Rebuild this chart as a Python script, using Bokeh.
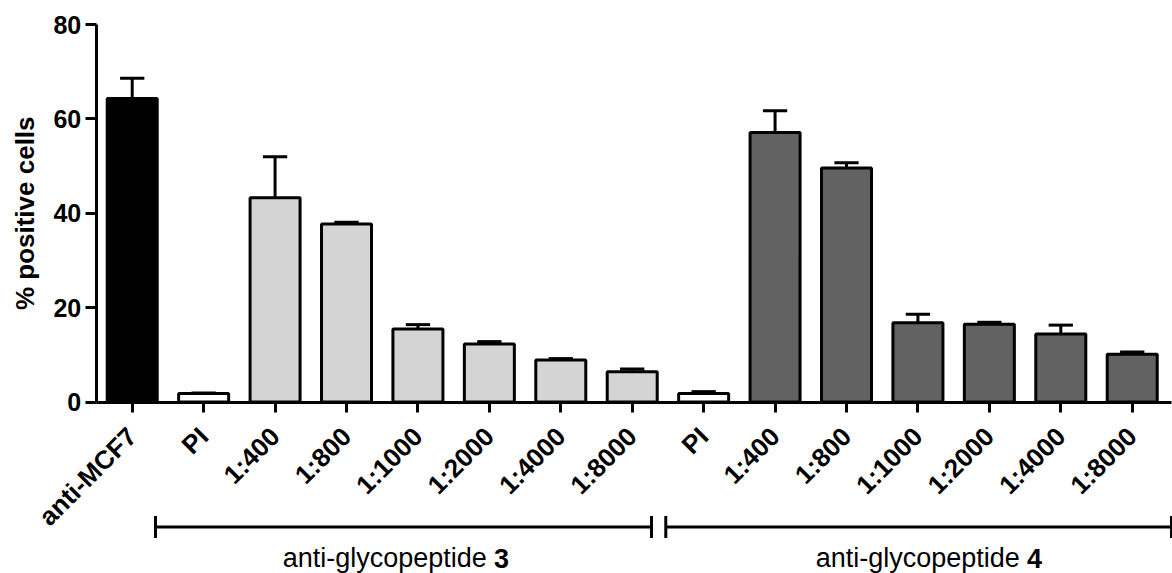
import math
from bokeh.plotting import figure
from bokeh.models import FixedTicker, Range1d, ColumnDataSource
from bokeh.core.properties import value
from bokeh.embed import file_html
from bokeh.resources import INLINE

# ---- data ----
categories = ["anti-MCF7", "PI", "1:400", "1:800", "1:1000", "1:2000", "1:4000", "1:8000",
              "PI", "1:400", "1:800", "1:1000", "1:2000", "1:4000", "1:8000"]
values = [64.3, 1.8, 43.3, 37.7, 15.5, 12.3, 8.9, 6.4,
          1.8, 57.1, 49.6, 16.8, 16.5, 14.4, 10.1]
errors = [4.3, 0.1, 8.7, 0.4, 0.9, 0.5, 0.3, 0.6,
          0.4, 4.6, 1.1, 1.8, 0.4, 1.9, 0.5]
series = ["control", "pre-immune", "gp3", "gp3", "gp3", "gp3", "gp3", "gp3",
          "pre-immune", "gp4", "gp4", "gp4", "gp4", "gp4", "gp4"]
series_colors = {"control": "#000000", "pre-immune": "#ffffff", "gp3": "#d4d4d4", "gp4": "#626262"}
group_texts = ["anti-glycopeptide", "anti-glycopeptide"]
group_numbers = ["3", "4"]
y_ticks = [0, 20, 40, 60, 80]
y_title = "% positive cells"

FONT = "Liberation Sans"

xs = list(range(len(categories)))
uppers = [v + e for v, e in zip(values, errors)]
src = ColumnDataSource(dict(
    x=xs, top=values, upper=uppers,
    xl=[x - 0.17 for x in xs], xr=[x + 0.17 for x in xs],
    color=[series_colors[s] for s in series],
))

# The frame covers the whole canvas; both axes sit at fixed data locations.
X_LEFT = -0.504   # where the y axis stands
p = figure(width=1172, height=573, output_backend="svg", toolbar_location=None,
           x_range=Range1d(-1.844, 14.564), y_range=Range1d(-36.34, 85.09),
           min_border_left=0, min_border_right=0, min_border_top=0, min_border_bottom=0)
p.title.visible = False
p.outline_line_color = None
p.xgrid.visible = False
p.ygrid.visible = False
p.background_fill_color = "white"
p.border_fill_color = "white"

# error bars (upper only)
p.segment(x0="x", y0="top", x1="x", y1="upper", source=src, line_color="black", line_width=3)
p.segment(x0="xl", y0="upper", x1="xr", y1="upper", source=src, line_color="black", line_width=3)
# bars
p.vbar(x="x", top="top", bottom=0, width=0.7, source=src, fill_color="color",
       line_color="black", line_width=3)

# axes
for ax in (p.xaxis[0], p.yaxis[0]):
    ax.axis_line_width = 3
    ax.axis_line_color = "black"
    ax.major_tick_line_width = 3
    ax.major_tick_line_color = "black"
    ax.minor_tick_line_color = None
    ax.major_tick_in = 0
    ax.major_label_text_font = FONT
    ax.major_label_text_font_style = "bold"
    ax.major_label_text_color = "black"

p.yaxis.fixed_location = X_LEFT
p.yaxis.ticker = FixedTicker(ticks=y_ticks)
p.yaxis.bounds = (0, 80)
p.yaxis.major_tick_out = 11
p.yaxis.major_label_standoff = 4
p.yaxis.major_label_text_font_size = "25px"

p.xaxis.fixed_location = 0
p.xaxis.bounds = (X_LEFT, 14.55)
p.xaxis.ticker = FixedTicker(ticks=xs)
p.xaxis.major_label_overrides = {i: c for i, c in zip(xs, categories)}
p.xaxis.major_tick_out = 10
p.xaxis.major_label_standoff = 20
p.xaxis.major_label_orientation = math.pi / 4
p.xaxis.major_label_text_font_size = "26px"

# y axis title (vertical text centred on the 0-80 axis)
p.text(x=[-1.508], y=[40], text=[y_title], angle=math.pi / 2, text_align="center",
       text_baseline="middle", text_font=value(FONT), text_font_size="26px",
       text_font_style="bold", text_color="black")

# group brackets and labels (layout positions in axis units)
BR_Y = -26.49
CAP = 2.33
bracket_x0 = [0.326, 7.47]
bracket_x1 = [7.27, 14.55]
p.segment(x0=bracket_x0, y0=[BR_Y] * 2, x1=bracket_x1, y1=[BR_Y] * 2,
          line_color="black", line_width=3)
cap_x = bracket_x0 + bracket_x1
p.segment(x0=cap_x, y0=[BR_Y - CAP] * 4, x1=cap_x, y1=[BR_Y + CAP] * 4,
          line_color="black", line_width=3)

TXT_Y = -33.1
p.text(x=[4.964, 12.426], y=[TXT_Y] * 2, text=group_texts, text_align="right",
       text_baseline="alphabetic", text_font=value(FONT), text_font_size="27px",
       text_color="black")
p.text(x=[5.066, 12.528], y=[TXT_Y] * 2, text=group_numbers, text_align="left",
       text_baseline="alphabetic", text_font=value(FONT), text_font_size="27px",
       text_font_style="bold", text_color="black")

open("out.html", "w").write(file_html(p, INLINE))
